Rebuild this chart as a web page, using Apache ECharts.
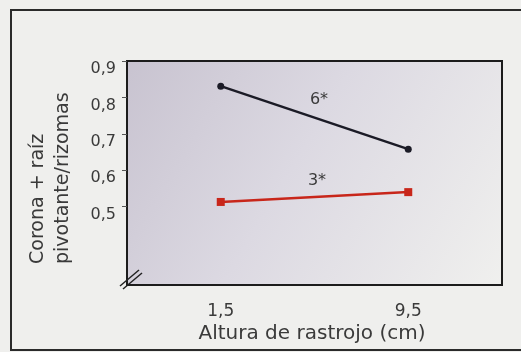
<!DOCTYPE html>
<html>
<head>
<meta charset="utf-8">
<script src="https://cdn.jsdelivr.net/npm/echarts@6/dist/echarts.min.js"></script>
<style>
html,body{margin:0;padding:0;background:#efefed;}
#c{width:521px;height:352px;}
</style>
</head>
<body>
<div id="c"></div>
<script>
var categories = ['1,5', '9,5'];
var series6 = [0.831, 0.658];
var series3 = [0.513, 0.540];
var yTickValues = [0.5, 0.6, 0.7, 0.8, 0.9];
var seriesNames = ['6*', '3*'];
var xTitle = 'Altura de rastrojo (cm)';
var yTitle1 = 'Corona + raíz';
var yTitle2 = 'pivotante/rizomas';

var FONT = 'DejaVu Sans';
var chart = echarts.init(document.getElementById('c'));
chart.setOption({
  backgroundColor: '#efefed',
  animation: false,
  grid: {
    left: 127, right: 19, top: 61, bottom: 67,
    show: true,
    borderColor: '#1c1c1c', borderWidth: 2,
    backgroundColor: new echarts.graphic.LinearGradient(0, 0, 1, 1, [
      {offset: 0, color: '#c8c3d0'},
      {offset: 0.45, color: '#dcd9e2'},
      {offset: 1, color: '#f0f0ee'}
    ])
  },
  xAxis: {
    type: 'category',
    data: categories,
    boundaryGap: true,
    axisLine: {show: true, lineStyle: {color: '#1c1c1c', width: 2}},
    axisTick: {show: false},
    axisLabel: {color: '#3a3a3a', fontFamily: FONT, fontSize: 17, margin: 18},
    splitLine: {show: false}
  },
  yAxis: {
    type: 'value',
    min: 0.285, max: 0.9,
    axisLine: {show: true, lineStyle: {color: '#1c1c1c', width: 2}},
    axisTick: {show: true, inside: false, length: 5, customValues: yTickValues, lineStyle: {color: '#555', width: 1}},
    axisLabel: {
      customValues: yTickValues,
      color: '#3a3a3a', fontFamily: FONT, fontSize: 16, margin: 11,
      verticalAlign: 'top',
      formatter: function (v) { return v.toFixed(1).replace('.', ','); }
    },
    splitLine: {show: false}
  },
  series: [
    {
      name: seriesNames[0], type: 'line', data: series6,
      symbol: 'circle', symbolSize: 7,
      lineStyle: {color: '#1b1b26', width: 2.5},
      itemStyle: {color: '#1b1b26'}
    },
    {
      name: seriesNames[1], type: 'line', data: series3,
      symbol: 'rect', symbolSize: 8,
      lineStyle: {color: '#c8261a', width: 2.5},
      itemStyle: {color: '#c8261a'}
    }
  ],
  graphic: [
    {type: 'rect', shape: {x: 11, y: 10, width: 530, height: 340}, style: {fill: null, stroke: '#2a2a2a', lineWidth: 2}, z: -1},
    {type: 'text', x: 312, y: 334, style: {text: xTitle, font: '20px "DejaVu Sans"', fill: '#3a3a3a', align: 'center', verticalAlign: 'middle'}},
    {type: 'text', x: 38, y: 264, rotation: Math.PI / 2, style: {text: yTitle1, font: '19px "DejaVu Sans"', fill: '#3a3a3a', align: 'left', verticalAlign: 'middle'}},
    {type: 'text', x: 63, y: 264, rotation: Math.PI / 2, style: {text: yTitle2, font: '19px "DejaVu Sans"', fill: '#3a3a3a', align: 'left', verticalAlign: 'middle'}},
    {type: 'text', x: 319, y: 100, style: {text: seriesNames[0], font: '16px "DejaVu Sans"', fill: '#3a3a3a', align: 'center', verticalAlign: 'middle'}},
    {type: 'text', x: 317, y: 181, style: {text: seriesNames[1], font: '16px "DejaVu Sans"', fill: '#3a3a3a', align: 'center', verticalAlign: 'middle'}},
    {type: 'line', shape: {x1: 120, y1: 286, x2: 139, y2: 270}, style: {stroke: '#222', lineWidth: 1.5}, z: 10},
    {type: 'line', shape: {x1: 123, y1: 289, x2: 142, y2: 273}, style: {stroke: '#222', lineWidth: 1.5}, z: 10}
  ]
});
</script>
</body>
</html>
